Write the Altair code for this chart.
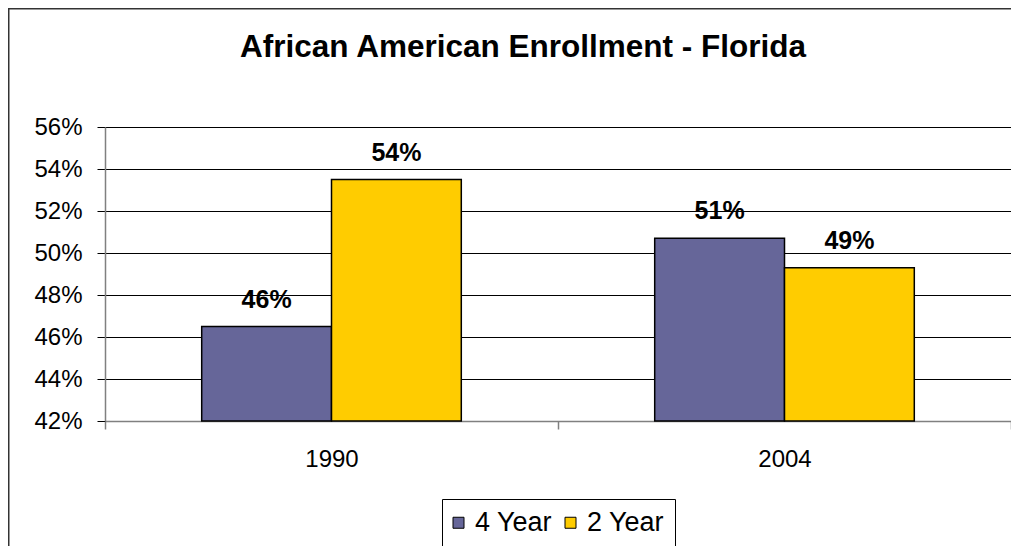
import altair as alt
import pandas as pd

# ---- data ----
years = ["1990", "2004"]
series = ["4 Year", "2 Year"]
four_year = [0.465, 0.507]
two_year = [0.535, 0.493]
four_year_labels = ["46%", "51%"]
two_year_labels = ["54%", "49%"]
colors = ["#666699", "#FFCC00"]
y_ticks = [0.42, 0.44, 0.46, 0.48, 0.50, 0.52, 0.54, 0.56]
title_text = "African American Enrollment - Florida"

rows = []
for i, yr in enumerate(years):
    rows.append({"year": yr, "series": series[0], "value": four_year[i], "label": four_year_labels[i]})
    rows.append({"year": yr, "series": series[1], "value": two_year[i], "label": two_year_labels[i]})
df = pd.DataFrame(rows)

FONT = "Liberation Sans"
W, H = 906, 294

x_enc = alt.X(
    "year:N", title=None, sort=years,
    scale=alt.Scale(paddingInner=0, paddingOuter=0),
    axis=alt.Axis(labelAngle=0, labelFontSize=24, labelFont=FONT, labelColor="black",
                  labelPadding=18, tickSize=8, tickBand="extent", tickColor="#808080",
                  tickWidth=1.5, domainColor="#808080", domainWidth=1.5, grid=False),
)
xo_enc = alt.XOffset("series:N", sort=series,
                     scale=alt.Scale(paddingInner=0, paddingOuter=0.745))
y_enc = alt.Y(
    "value:Q", title=None,
    scale=alt.Scale(domain=[0.42, 0.56], zero=False, nice=False),
    axis=alt.Axis(values=y_ticks, format=".0%", labelFontSize=24, labelFont=FONT,
                  labelColor="black", labelPadding=15, tickSize=8, tickColor="black",
                  domainColor="#808080", domainWidth=1.5, grid=True, gridColor="black",
                  gridWidth=1),
)

base = alt.Chart(df)

bars = base.mark_bar(stroke="black", strokeWidth=1.5).encode(
    x=x_enc,
    xOffset=xo_enc,
    y=y_enc,
    y2=alt.datum(0.42),
    color=alt.Color(
        "series:N", sort=series,
        scale=alt.Scale(domain=series, range=colors),
        legend=alt.Legend(
            orient="none", legendX=337, legendY=372, direction="horizontal",
            title=None, symbolType="square", symbolSize=121,
            symbolStrokeColor="black", symbolStrokeWidth=1, symbolOpacity=1,
            symbolOffset=-7,
            labelFontSize=27, labelFont=FONT, labelColor="black",
            strokeColor="black", fillColor="white", padding=10,
            labelOffset=3, columnPadding=10,
        ),
    ),
)

labels = base.mark_text(
    fontSize=25, fontWeight="bold", font=FONT, color="black",
    baseline="alphabetic", dy=-19,
).encode(
    x=alt.X("year:N", sort=years),
    xOffset=alt.XOffset("series:N", sort=series),
    y=alt.Y("value:Q"),
    text="label:N",
)

one = alt.Data(values=[{"t": title_text}])

title = alt.Chart(one).mark_text(
    fontSize=31.5, fontWeight="bold", font=FONT, color="black",
    align="center", baseline="alphabetic",
).encode(x=alt.value(418), y=alt.value(-70), text="t:N")

frame_top = alt.Chart(one).mark_rule(color="#333333", strokeWidth=1.5).encode(
    x=alt.value(-97), x2=alt.value(W + 300), y=alt.value(-118.25)
)
frame_left = alt.Chart(one).mark_rule(color="#333333", strokeWidth=1.5).encode(
    x=alt.value(-96.25), y=alt.value(-119), y2=alt.value(H + 300)
)

chart = alt.layer(frame_top, frame_left, bars, labels, title).properties(
    width=W, height=H,
    padding={"left": 97, "top": 119, "right": 0, "bottom": 125},
    autosize="none",
).configure_view(stroke=None).configure(background="white")

chart.save("out.html", embed_options={"renderer": "svg", "actions": False})
